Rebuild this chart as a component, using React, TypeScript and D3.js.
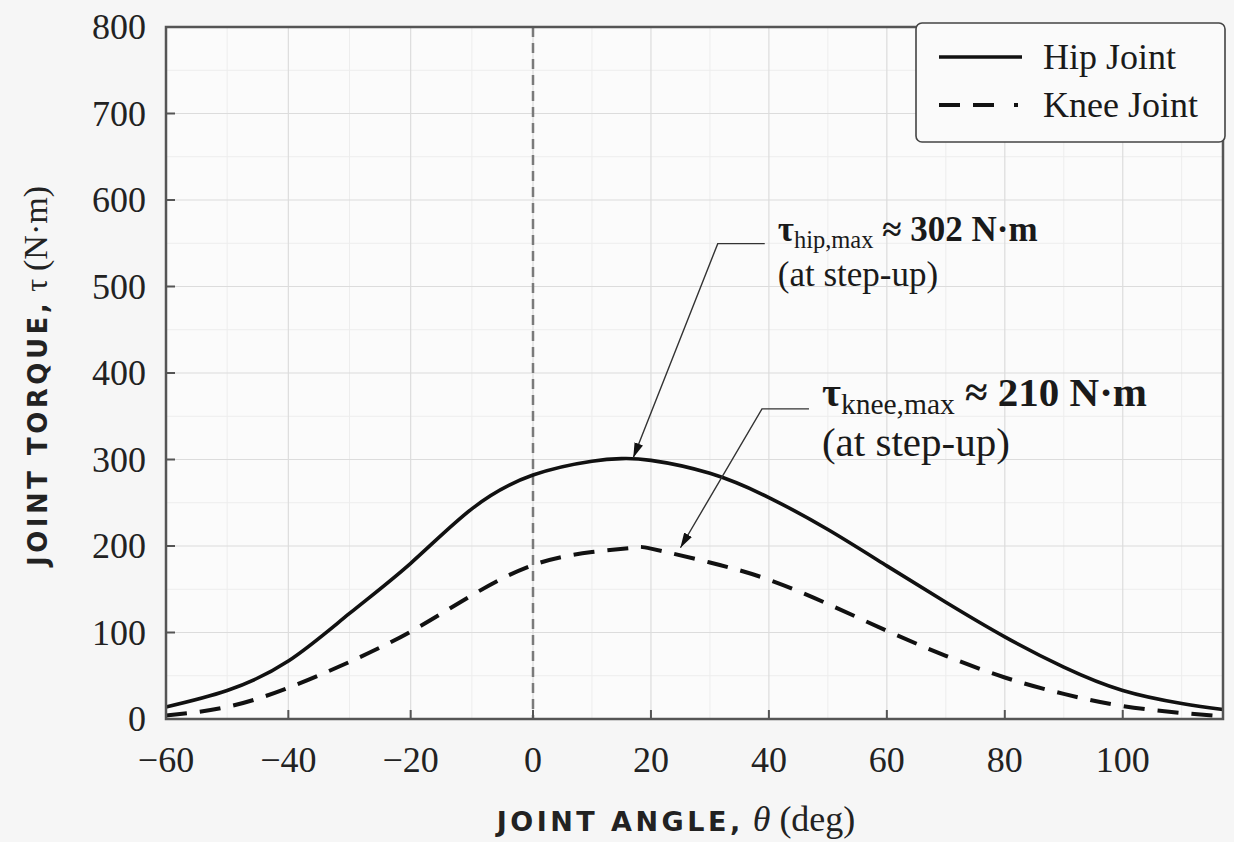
import { useEffect, useRef } from "react";
import * as d3 from "d3";

// joint angle (deg) vs joint torque (N·m)
const hipAngles = [-60, -50, -40, -30, -20, -10, 0, 10, 15, 20, 30, 40, 50, 60, 70, 80, 90, 100, 110, 117];
const hipTorque = [14, 33, 67, 122, 180, 243, 282, 298, 301, 299, 284, 256, 219, 177, 135, 95, 60, 33, 18, 11];

const kneeAngles = [-60, -50, -40, -30, -20, -10, 0, 10, 17, 20, 30, 40, 50, 60, 70, 80, 90, 100, 110, 117];
const kneeTorque = [4, 14, 36, 66, 101, 143, 178, 193, 198, 197, 181, 161, 133, 102, 73, 48, 29, 15, 7, 3];

const xTicks = [-60, -40, -20, 0, 20, 40, 60, 80, 100];
const yTicks = [0, 100, 200, 300, 400, 500, 600, 700, 800];

const seriesNames = ["Hip Joint", "Knee Joint"];

const peakLabels = ["hip,max", "knee,max"];
const peakValues = ["302", "210"];

const W = 1234;
const H = 842;
const SERIF = "'Liberation Serif', 'Times New Roman', serif";
const SANS = "'DejaVu Sans', Verdana, sans-serif";

export default function App() {
    const svgRef = useRef<SVGSVGElement>(null);

    useEffect(() => {
        const svg = d3.select(svgRef.current);
        svg.selectAll("*").remove();

        const left = 166, right = 1223, top = 27, bottom = 719;

        // the source axis is slightly stretched left of zero
        const x = d3.scaleLinear().domain([-60, 0, 117]).range([left, 533, right]);
        const y = d3.scaleLinear().domain([0, 800]).range([bottom, top]);

        svg.append("rect").attr("width", W).attr("height", H).attr("fill", "#f6f6f6");
        svg.append("rect")
            .attr("x", left).attr("y", top)
            .attr("width", right - left).attr("height", bottom - top)
            .attr("fill", "#fbfbfb");

        // grid
        const minorX = d3.range(-50, 117, 20);
        const minorY = d3.range(50, 800, 100);
        const grid = svg.append("g");
        grid.selectAll(".mx").data(minorX).enter().append("line")
            .attr("x1", (d) => x(d)).attr("x2", (d) => x(d))
            .attr("y1", top).attr("y2", bottom)
            .attr("stroke", "#ededed").attr("stroke-width", 1);
        grid.selectAll(".my").data(minorY).enter().append("line")
            .attr("x1", left).attr("x2", right)
            .attr("y1", (d) => y(d)).attr("y2", (d) => y(d))
            .attr("stroke", "#ededed").attr("stroke-width", 1);
        grid.selectAll(".gx").data(xTicks.slice(1)).enter().append("line")
            .attr("x1", (d) => x(d)).attr("x2", (d) => x(d))
            .attr("y1", top).attr("y2", bottom)
            .attr("stroke", "#dcdcdc").attr("stroke-width", 1.2);
        grid.selectAll(".gy").data(yTicks.slice(1)).enter().append("line")
            .attr("x1", left).attr("x2", right)
            .attr("y1", (d) => y(d)).attr("y2", (d) => y(d))
            .attr("stroke", "#dcdcdc").attr("stroke-width", 1.2);

        // zero reference
        svg.append("line")
            .attr("x1", x(0)).attr("x2", x(0))
            .attr("y1", top).attr("y2", bottom)
            .attr("stroke", "#7a7a7a").attr("stroke-width", 2.5)
            .attr("stroke-dasharray", "10 6");

        // curves
        const line = d3.line<[number, number]>()
            .x((d) => x(d[0]))
            .y((d) => y(d[1]))
            .curve(d3.curveNatural);

        svg.append("path")
            .datum(hipAngles.map((a, i) => [a, hipTorque[i]] as [number, number]))
            .attr("d", line)
            .attr("fill", "none").attr("stroke", "#111").attr("stroke-width", 3.6);
        svg.append("path")
            .datum(kneeAngles.map((a, i) => [a, kneeTorque[i]] as [number, number]))
            .attr("d", line)
            .attr("fill", "none").attr("stroke", "#111").attr("stroke-width", 4)
            .attr("stroke-dasharray", "21 13");

        // frame + inward ticks
        svg.append("rect")
            .attr("x", left).attr("y", top)
            .attr("width", right - left).attr("height", bottom - top)
            .attr("fill", "none").attr("stroke", "#555").attr("stroke-width", 2.5);
        svg.selectAll(".tx").data(xTicks.slice(1)).enter().append("line")
            .attr("x1", (d) => x(d)).attr("x2", (d) => x(d))
            .attr("y1", bottom).attr("y2", bottom - 9)
            .attr("stroke", "#555").attr("stroke-width", 2);
        svg.selectAll(".ty").data(yTicks.slice(1)).enter().append("line")
            .attr("x1", left).attr("x2", left + 9)
            .attr("y1", (d) => y(d)).attr("y2", (d) => y(d))
            .attr("stroke", "#555").attr("stroke-width", 2);

        const fmt = d3.format("");
        svg.selectAll(".lx").data(xTicks).enter().append("text")
            .attr("x", (d) => x(d)).attr("y", 772)
            .attr("text-anchor", "middle")
            .attr("font-family", SERIF).attr("font-size", 36).attr("fill", "#222")
            .text((d) => fmt(d));
        svg.selectAll(".ly").data(yTicks).enter().append("text")
            .attr("x", 146).attr("y", (d) => y(d) + 12)
            .attr("text-anchor", "end")
            .attr("font-family", SERIF).attr("font-size", 36).attr("fill", "#222")
            .text((d) => fmt(d));

        // axis titles
        const xt = svg.append("text")
            .attr("x", 676).attr("y", 831).attr("text-anchor", "middle").attr("fill", "#222");
        xt.append("tspan").attr("font-family", SANS).attr("font-weight", "bold")
            .attr("font-size", 27).attr("letter-spacing", 3.5).text("JOINT ANGLE,");
        xt.append("tspan").attr("font-family", SERIF).attr("font-style", "italic")
            .attr("font-size", 36).text(" θ ");
        xt.append("tspan").attr("font-family", SERIF).attr("font-size", 36).text("(deg)");

        const yt = svg.append("text")
            .attr("transform", "translate(47,376) rotate(-90)")
            .attr("text-anchor", "middle").attr("fill", "#222");
        yt.append("tspan").attr("font-family", SANS).attr("font-weight", "bold")
            .attr("font-size", 26).attr("letter-spacing", 3.5).text("JOINT TORQUE,");
        yt.append("tspan").attr("font-family", SERIF).attr("font-size", 32).text(" τ ");
        yt.append("tspan").attr("font-family", SERIF).attr("font-size", 34).text("(N·m)");

        // annotations
        const defs = svg.append("defs");
        defs.append("marker")
            .attr("id", "arr")
            .attr("viewBox", "0 0 15 9")
            .attr("refX", 15).attr("refY", 4.5)
            .attr("markerWidth", 15).attr("markerHeight", 9)
            .attr("markerUnits", "userSpaceOnUse")
            .attr("orient", "auto")
            .append("path").attr("d", "M0,0 L15,4.5 L0,9 Z").attr("fill", "#111");

        const notes = [
            { tip: [17, 302], at: [41.5, 553], size: 35, sub: 0.7, gap: 45 },
            { tip: [25, 198], at: [49, 362], size: 41, sub: 0.72, gap: 50 },
        ];
        notes.forEach((n, i) => {
            const tx = x(n.at[0]);
            const ty = y(n.at[1]);
            svg.append("path")
                .attr("d", `M${tx - 13},${ty + 3} L${tx - 60},${ty + 3} L${x(n.tip[0])},${y(n.tip[1])}`)
                .attr("fill", "none").attr("stroke", "#333").attr("stroke-width", 1.4)
                .attr("marker-end", "url(#arr)");
            const t = svg.append("text")
                .attr("x", tx).attr("y", ty)
                .attr("font-family", SERIF).attr("font-size", n.size).attr("fill", "#1a1a1a");
            t.append("tspan").attr("font-weight", "bold").text("τ");
            t.append("tspan").attr("font-size", n.size * n.sub).attr("dy", n.size * 0.2).text(peakLabels[i]);
            t.append("tspan").attr("font-weight", "bold").attr("dy", -n.size * 0.2)
                .text(` ≈ ${peakValues[i]} N·m`);
            svg.append("text")
                .attr("x", tx).attr("y", ty + n.gap)
                .attr("font-family", SERIF).attr("font-size", n.size).attr("fill", "#1a1a1a")
                .text("(at step-up)");
        });

        // legend
        const lg = svg.append("g");
        lg.append("rect")
            .attr("x", 916).attr("y", 23).attr("width", 309).attr("height", 119).attr("rx", 6)
            .attr("fill", "#fafafa").attr("stroke", "#444").attr("stroke-width", 1.6);
        seriesNames.forEach((name, i) => {
            const ly = 57 + i * 48;
            lg.append("line")
                .attr("x1", 939).attr("x2", 1022).attr("y1", ly).attr("y2", ly)
                .attr("stroke", "#111").attr("stroke-width", i === 0 ? 3.5 : 4)
                .attr("stroke-dasharray", i === 0 ? null : "21 13 21 20 4 20");
            lg.append("text")
                .attr("x", 1043).attr("y", ly + 12)
                .attr("font-family", SERIF).attr("font-size", 36).attr("fill", "#1a1a1a")
                .text(name);
        });
    }, []);

    return (
        <div>
            <style>{`body{margin:0}`}</style>
            <svg ref={svgRef} width={W} height={H} style={{ display: "block" }} />
        </div>
    );
}
